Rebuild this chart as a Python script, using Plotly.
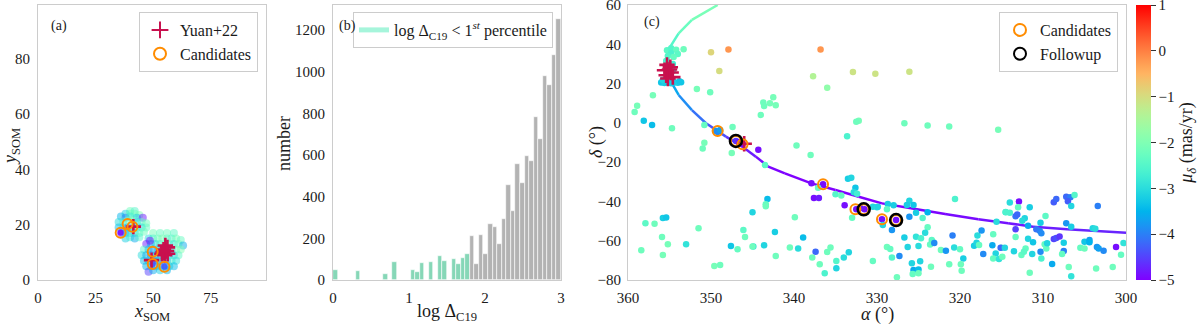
import math
import numpy as np
import plotly.graph_objects as go

# ---------------- DATA ----------------
# Panel (a): SOM positions of members, colored by proper motion in dec
som_x = [40, 42, 38, 40, 42, 44, 36, 38, 40, 43, 45.5, 35, 37, 39, 41, 43, 45, 47,
         35, 37, 39, 41, 43, 45, 47, 36, 38, 40, 42, 44, 46, 38, 40, 42, 44,
         50, 53, 56, 59, 48, 50, 52, 54, 56, 58, 60, 62,
         47, 49, 51, 53, 55, 57, 59, 61, 63, 46, 48, 50, 52, 54, 56, 58, 60, 62,
         45, 47, 49, 51, 53, 55, 57, 59, 61, 46, 48, 50, 52, 54, 56, 58, 60,
         47, 49, 51, 53, 55, 57, 59, 48, 50, 53, 56, 48.6]
som_y = [25, 25, 24, 24, 24, 23.5, 23, 22.5, 23, 22.5, 22.5, 21, 21, 21.5, 21.5, 21, 21, 20.5,
         19, 19, 19, 19, 19, 19, 19, 17, 17, 17, 17, 17, 17.5, 15, 15.5, 15, 15.5,
         17, 17, 17, 17, 15, 15, 15, 15, 15, 15, 15, 14.5,
         13, 13, 13, 13, 13, 13, 13, 13, 12.5, 11, 11, 11, 11, 11, 11, 11, 11, 11,
         9, 9, 9, 9, 9, 9, 9, 9, 9, 7, 7, 7, 7, 7, 7, 7, 7,
         5, 5, 5, 5, 5, 5, 5, 3, 3.5, 3.5, 3.5, 14.2]
som_pm = [-2.2, -2.5, -3.2, -2.3, -2.2, -2.0, -3.5, -4.0, -2.8, -3.3, -4.8, -3.0, -2.6, -2.2, -2.0, -3.0, -2.4, -2.2,
          -3.4, -3.0, -3.8, -2.7, -2.5, -3.1, -2.3, -4.9, -3.5, -3.2, -3.0, -2.4, -2.2, -3.2, -2.7, -3.6, -2.5,
          -2.1, -2.3, -2.2, -2.4, -3.0, -2.6, -2.2, -2.0, -2.3, -2.5, -2.1, -2.3,
          -4.8, -3.5, -3.0, -2.6, -2.2, -2.4, -2.8, -2.2, -3.6, -2.5, -3.3, -3.8, -3.1, -2.7, -2.5, -3.0, -2.2, -2.0,
          -3.0, -3.6, -3.9, -3.3, -2.9, -3.5, -2.7, -3.2, -2.4, -3.4, -3.2, -4.1, -3.6, -3.0, -3.8, -2.6, -2.9,
          -3.5, -3.0, -3.7, -3.3, -4.5, -3.1, -3.4, -4.5, -3.6, -3.2, -3.5, -4.9]
som_core_x = [35.9, 49.8, 54.9]
som_core_y = [17.1, 5.8, 4.8]
som_core_pm = [-4.9, -4.4, -4.3]
som_yuan_x = [41.4, 49.3, 53.8, 54.5, 55.3, 56.2, 55.0, 56.3, 54.3, 55.8]
som_yuan_y = [19.3, 7.2, 9.5, 11.0, 12.5, 11.8, 9.0, 9.5, 10.0, 10.5]
som_cand_x = [35.9, 38.9, 41.0, 49.8, 49.8, 54.9]
som_cand_y = [17.1, 20.3, 19.3, 10.2, 5.8, 4.8]

# Panel (b): histogram of log Delta_C19 (bins of 0.06 from 0 to 3)
hist_bin_width = 0.06
hist_low_counts = [48, 0, 0, 0, 0, 45, 0, 0, 0, 0, 0, 29, 0, 85, 0, 0, 0, 48, 40, 80,
                   0, 85, 0, 117, 93, 0, 99, 75, 107, 123]
hist_high_counts = [213, 77, 214, 125, 270, 254, 174, 291, 458, 333, 555, 466, 594, 571,
                    782, 678, 978, 936, 1078, 1254]

# Panel (c): sky positions (RA, Dec) and proper motion in dec
field_ra = [355.3, 354.8, 354.2, 353.3, 354.8, 354.0, 355.2, 354.5, 355.4, 354.6,
            356.0, 355.6, 355.2, 354.8, 354.4, 354.0, 353.6, 355.4, 354.6, 355.8, 353.8, 355.0, 354.6,
            350.0, 347.9, 349.0, 351.7, 350.1, 357.0, 358.9, 359.2, 358.1, 357.1, 354.7, 350.8, 347.4,
            350.8, 351.0, 347.5, 349.5, 349.2, 348.9, 347.0, 346.6, 346.2,
            345.0, 357.9, 356.8, 355.8, 355.4, 355.9, 355.2, 358.4, 355.8, 353.0, 351.5, 349.6, 348.9,
            347.6, 346.8, 346.1, 345.9, 344.9,
            336.8, 337.7, 336.0, 332.9, 330.2, 342.5, 343.7, 342.9, 343.6, 342.2, 344.0, 332.2, 332.5,
            333.6, 339.7, 338.0, 344.3, 343.5, 337.9, 336.5, 337.1, 337.6, 337.0, 333.5, 333.1, 332.6,
            332.8, 332.4, 335.0, 334.3, 333.9, 332.5, 331.5, 332.0, 330.5, 330.0, 333.0, 343.2, 343.4,
            343.4, 339.9, 342.3, 338.9, 345.0, 343.6, 342.2, 340.5, 339.5, 337.4, 337.8, 336.9, 336.3,
            336.0, 335.6, 334.9, 334.9, 334.0, 333.4, 330.5,
            326.1, 326.7, 323.9, 321.3, 315.4, 329.4, 327.7, 329.9, 328.7, 328.0, 326.1, 326.4, 325.6,
            328.8, 329.3, 328.2, 326.1, 325.3, 323.9, 324.5, 323.9, 324.2, 326.7, 325.3, 324.7, 323.2,
            323.6, 323.4, 323.1, 326.3, 325.0, 328.8, 328.4, 328.2, 327.3, 325.8, 324.8, 325.6, 325.0,
            325.7, 325.0, 323.5, 327.6, 322.3, 321.7, 320.9, 320.6, 320.7, 321.3, 320.0, 319.6, 319.9,
            319.8, 318.3, 318.0, 317.9, 317.4, 317.7, 316.1, 316.0, 315.6, 315.7, 317.2, 316.0, 315.3,
            315.0, 314.9, 315.1, 314.5,
            312.9, 314.0, 314.5, 314.0, 313.3, 313.1, 311.6, 313.0, 312.2, 312.5, 311.8, 313.3, 313.3,
            311.8, 311.2, 310.8, 310.4, 310.2, 310.3, 309.7, 314.6, 313.5, 312.6, 312.1, 312.3, 311.3,
            310.2, 310.3, 311.6, 309.8, 309.6, 309.5, 308.9, 308.7, 308.4, 308.0, 308.7, 308.4, 307.2,
            306.7, 307.0, 306.2, 306.6, 307.2, 306.6, 307.5, 307.5, 307.7, 306.9, 306.6, 305.5, 305.0,
            305.0, 304.4, 304.4, 304.0, 303.7, 303.4, 303.5, 303.3, 302.7, 303.6, 301.6, 301.2, 300.6,
            300.3]
field_dec = [37.0, 38.0, 37.2, 37.5, 35.5, 35.0, 34.0, 33.5, 31.5, 30.0,
             20.5, 20.3, 20.8, 20.2, 20.6, 20.4, 20.7, 21.5, 21.4, 21.8, 21.2, 24.5, 26.5,
             35.9, 37.4, 26.4, 17.2, 15.6, 14.0, 8.7, 5.5, 1.1, -1.1, -2.8, -1.1, -2.1,
             -10.1, -13.0, -15.3, -4.0, -4.6, -3.6, -9.2, -9.8, -10.9,
             -45.5, -51.1, -51.3, -48.4, -48.2, -58.1, -61.8, -64.9, -67.3, -61.8, -53.7, -72.9, -72.4,
             -62.7, -64.4, -54.5, -58.1, -63.0,
             37.3, 23.7, 17.9, 25.9, 25.0, 13.0, 10.3, 10.0, 8.6, 9.0, 4.0, 1.1, 0.6,
             -6.8, -11.5, -16.4, -13.7, -21.5, -30.8, -31.3, -33.0, -38.2, -38.2, -28.4, -27.9, -33.0,
             -35.3, -36.1, -36.4, -37.0, -42.0, -44.0, -44.0, -43.4, -42.7, -43.0, -48.3, -38.8, -41.4,
             -42.4, -48.1, -55.6, -58.3, -63.0, -62.3, -67.8, -63.4, -63.9, -65.6, -68.5, -72.0, -76.6,
             -65.7, -63.4, -70.3, -74.0, -68.6, -65.9, -70.3,
             26.0, -0.2, -1.3, -1.8, -3.5, -49.1, -49.5, -42.7, -41.3, -42.0, -39.6, -41.8, -41.8,
             -44.0, -52.0, -54.5, -47.8, -45.7, -45.5, -48.4, -53.2, -56.0, -58.3, -58.0, -58.8, -60.8,
             -61.9, -59.6, -61.2, -63.2, -62.7, -63.2, -64.2, -68.5, -67.8, -71.5, -70.5, -74.9, -74.6,
             -77.0, -76.6, -73.2, -78.6, -64.7, -65.1, -57.4, -38.8, -63.4, -72.0, -64.4, -69.0, -72.0,
             -75.3, -62.5, -61.0, -57.3, -54.8, -62.2, -62.3, -56.7, -50.3, -66.5, -66.8, -69.1, -69.3,
             -63.6, -68.2, -63.6, -45.5,
             -40.0, -40.5, -45.4, -45.8, -47.5, -46.6, -43.0, -43.0, -48.6, -49.8, -52.4, -54.2, -58.1,
             -59.0, -60.8, -54.2, -54.9, -56.2, -50.8, -47.4, -63.6, -65.4, -67.3, -63.9, -65.6, -66.8,
             -69.0, -65.6, -76.3, -61.8, -63.9, -61.3, -71.9, -59.1, -58.6, -57.9, -40.4, -38.8, -37.6,
             -37.9, -39.9, -36.7, -42.3, -51.1, -52.9, -61.0, -65.2, -66.8, -73.4, -78.1, -63.6, -64.0,
             -60.5, -59.6, -60.8, -53.7, -53.9, -42.3, -63.2, -63.9, -65.1, -74.2, -73.4, -63.2, -67.1,
             -61.2]
field_pmdec = [-2.4, -2.5, -2.3, -2.2, -2.6, -2.4, -2.5, -2.3, -2.6, -2.7,
               -3.3, -3.2, -3.3, -3.2, -3.3, -3.2, -3.3, -3.2, -3.2, -3.1, -3.3, -3.0, -2.9,
               -0.9, -0.2, -1.0, -2.1, -2.2, -2.1, -2.1, -2.2, -3.3, -3.4, -2.2, -2.3, -2.2,
               -2.1, -2.2, -2.1, -3.8, -3.9, -3.7, -4.6, -4.8, -4.9,
               -3.1, -2.4, -2.2, -3.2, -3.3, -2.2, -2.1, -2.2, -2.1, -2.9, -2.2, -2.1, -2.2,
               -3.3, -2.3, -2.4, -2.2, -2.9,
               -0.2, -1.4, -1.8, -1.1, -1.1, -2.1, -2.2, -2.1, -2.2, -2.1, -2.2, -2.1, -2.2,
               -2.6, -2.2, -2.2, -4.9, -2.4, -4.9, -4.9, -2.3, -4.9, -4.8, -3.2, -3.1, -3.3,
               -3.0, -2.7, -2.5, -2.3, -4.9, -4.9, -4.9, -4.8, -3.1, -3.0, -2.3, -3.4, -2.3,
               -2.2, -2.2, -3.2, -3.4, -2.2, -3.1, -2.2, -2.2, -3.0, -4.2, -2.2, -2.2, -2.6,
               -2.2, -2.2, -2.5, -3.1, -3.0, -3.1, -2.3,
               -1.1, -2.2, -2.2, -2.2, -2.1, -4.9, -4.9, -3.1, -3.2, -3.2, -3.1, -3.2, -3.3,
               -2.4, -3.1, -3.8, -3.8, -3.2, -3.5, -2.5, -2.3, -3.0, -3.2, -2.9, -2.6, -2.2,
               -2.3, -2.4, -3.9, -3.1, -3.0, -2.2, -2.3, -2.5, -3.9, -3.1, -3.1, -3.6, -3.4,
               -2.3, -2.2, -2.2, -2.2, -2.2, -3.8, -4.0, -2.6, -3.0, -2.2, -2.3, -3.2, -2.2,
               -2.2, -3.2, -3.1, -3.0, -3.8, -2.3, -3.6, -2.3, -3.0, -3.1, -3.9, -2.3, -2.9,
               -2.2, -2.2, -4.2, -2.7,
               -4.9, -3.0, -2.6, -2.6, -4.1, -4.2, -3.2, -2.3, -3.1, -3.0, -3.6, -4.5, -2.3,
               -3.1, -3.3, -4.1, -4.0, -3.9, -3.2, -2.4, -3.1, -3.1, -2.3, -2.3, -2.4, -3.1,
               -2.6, -3.9, -2.2, -2.3, -2.3, -3.1, -3.6, -4.5, -4.4, -4.6, -4.3, -4.2, -4.2,
               -4.0, -4.3, -2.5, -3.1, -3.8, -3.2, -3.2, -4.0, -2.3, -2.2, -2.9, -2.3, -2.2,
               -3.3, -3.7, -3.5, -3.1, -3.0, -4.0, -3.8, -3.7, -3.9, -2.2, -2.2, -4.9, -2.3,
               -2.9]

yuan_ra = [355.3, 354.9, 355.6, 354.8, 355.4, 354.6, 355.2, 355.0, 346.0]
yuan_dec = [29.5, 28.3, 26.8, 25.6, 24.2, 23.3, 22.6, 27.2, -10.6]
cand_ra = [349.2, 346.2, 336.5, 332.6, 329.4, 347.0, 331.6, 327.7]
cand_dec = [-4.1, -10.9, -31.3, -44.0, -49.1, -9.2, -44.0, -49.5]
follow_ra = [347.0, 331.6, 327.7]
follow_dec = [-9.2, -44.0, -49.5]

track_ra = [349.2, 352.3, 353.9, 354.9, 355.15, 355.2, 355.05, 354.7, 353.9, 352.3, 350.6,
            348.2, 346.2, 344.6, 343.1, 341.1, 337.9, 335.0, 332.2, 329.4, 325.9, 321.8,
            317.8, 314.2, 311.2, 307.1, 300.0]
track_dec = [60.0, 52.4, 45.6, 38.8, 33.0, 28.0, 24.0, 20.1, 14.2, 6.5, -0.2,
             -7.0, -12.1, -17.2, -22.3, -25.7, -30.8, -34.2, -37.6, -41.0, -43.5, -46.4,
             -49.1, -51.1, -52.9, -54.2, -55.9]
track_pmdec = [-2.0, -2.15, -2.35, -2.6, -2.85, -3.05, -3.3, -3.5, -3.75, -4.0, -4.25,
               -4.5, -4.7, -4.85, -4.95, -5.0, -5.0, -5.0, -5.0, -5.0, -5.0, -4.95,
               -4.9, -4.85, -4.8, -4.75, -4.7]

pm_min, pm_max = -5, 1

# ---------------- STYLE HELPERS ----------------
W, H = 1200, 324
FONT = "Liberation Serif"
TXT = "#1a1a1a"


def xp(px):
    return px / W


def yp(py):
    return (H - py) / H


def rainbow(t):
    t = min(max(t, 0.0), 1.0)
    r = min(max(abs(2 * t - 0.5), 0), 1)
    g = min(max(math.sin(math.pi * t), 0), 1)
    b = min(max(math.cos(math.pi * t / 2), 0), 1)
    return "rgb(%d,%d,%d)" % (round(r * 255), round(g * 255), round(b * 255))


colorscale = [[i / 40, rainbow(i / 40)] for i in range(41)]

fig = go.Figure()

# ---------------- PANEL (a) ----------------
fig.add_trace(go.Scatter(x=som_x, y=som_y, mode="markers", xaxis="x", yaxis="y",
                         marker=dict(size=8, color=som_pm, coloraxis="coloraxis", opacity=0.5,
                                     line=dict(width=0)),
                         showlegend=False, hoverinfo="skip"))
fig.add_trace(go.Scatter(x=som_core_x, y=som_core_y, mode="markers", xaxis="x", yaxis="y",
                         marker=dict(size=6, color=som_core_pm, coloraxis="coloraxis", opacity=0.9),
                         showlegend=False, hoverinfo="skip"))
fig.add_trace(go.Scatter(x=som_yuan_x, y=som_yuan_y, mode="markers", xaxis="x", yaxis="y",
                         name="Yuan+22", legend="legend",
                         marker=dict(symbol="cross-thin", size=11, color="#c8104e",
                                     line=dict(color="#c8104e", width=2.6))))
fig.add_trace(go.Scatter(x=som_cand_x, y=som_cand_y, mode="markers", xaxis="x", yaxis="y",
                         name="Candidates", legend="legend",
                         marker=dict(symbol="circle-open", size=10, color="#ff8c00",
                                     line=dict(color="#ff8c00", width=2))))

# ---------------- PANEL (b) ----------------
edges = np.arange(len(hist_low_counts) + len(hist_high_counts)) * hist_bin_width
centers = edges + hist_bin_width / 2
n_low = len(hist_low_counts)
fig.add_trace(go.Bar(x=centers[:n_low], y=hist_low_counts, width=hist_bin_width, xaxis="x2", yaxis="y2",
                     marker=dict(color="#86d7b7", line=dict(color="white", width=0.6)),
                     showlegend=False, hoverinfo="skip"))
fig.add_trace(go.Bar(x=centers[n_low:], y=hist_high_counts, width=hist_bin_width, xaxis="x2", yaxis="y2",
                     marker=dict(color="#b3b3b3", line=dict(color="white", width=0.6)),
                     showlegend=False, hoverinfo="skip"))
fig.add_trace(go.Scatter(x=[None], y=[None], mode="lines", xaxis="x2", yaxis="y2",
                         line=dict(color="#a6f5db", width=10), legend="legend2",
                         name="log Δ<sub>C19</sub> &lt; 1<sup><i>st</i></sup> percentile"))

# ---------------- PANEL (c) ----------------
for i in range(len(track_ra) - 1):
    m = (track_pmdec[i] + track_pmdec[i + 1]) / 2
    fig.add_trace(go.Scatter(x=track_ra[i:i + 2], y=track_dec[i:i + 2], mode="lines",
                             xaxis="x3", yaxis="y3",
                             line=dict(color=rainbow((m - pm_min) / (pm_max - pm_min)), width=2.5),
                             showlegend=False, hoverinfo="skip"))
fig.add_trace(go.Scatter(x=field_ra, y=field_dec, mode="markers", xaxis="x3", yaxis="y3",
                         marker=dict(size=6.5, color=field_pmdec, coloraxis="coloraxis", line=dict(width=0)),
                         showlegend=False, hoverinfo="skip"))
fig.add_trace(go.Scatter(x=yuan_ra, y=yuan_dec, mode="markers", xaxis="x3", yaxis="y3",
                         marker=dict(symbol="cross-thin", size=11, color="#c8104e",
                                     line=dict(color="#c8104e", width=2.6)),
                         showlegend=False, hoverinfo="skip"))
fig.add_trace(go.Scatter(x=cand_ra, y=cand_dec, mode="markers", xaxis="x3", yaxis="y3",
                         name="Candidates", legend="legend3",
                         marker=dict(symbol="circle-open", size=10, color="#ff8c00",
                                     line=dict(color="#ff8c00", width=2))))
fig.add_trace(go.Scatter(x=follow_ra, y=follow_dec, mode="markers", xaxis="x3", yaxis="y3",
                         name="Followup", legend="legend3",
                         marker=dict(symbol="circle-open", size=12, color="black",
                                     line=dict(color="black", width=2.5))))

# ---------------- LAYOUT ----------------
top, bottom = 5, 280
ydom = [yp(bottom), yp(top)]


def axis(domain, rng, tickvals, anchor, ticklen=5):
    return dict(domain=domain, range=rng, tickvals=tickvals, anchor=anchor, automargin=False,
                showgrid=False, zeroline=False, showline=True, linecolor="#cccccc", linewidth=1,
                mirror=True, ticks="outside", ticklen=ticklen, tickcolor="rgba(0,0,0,0)",
                ticklabeloverflow="allow",
                tickfont=dict(family=FONT, size=15, color=TXT), fixedrange=True)


legend_common = dict(bgcolor="white", bordercolor="#cccccc", borderwidth=1,
                     font=dict(family=FONT, size=16, color=TXT), xanchor="right", yanchor="top",
                     itemsizing="constant", tracegroupgap=0)


def label(text, px, py, size=19, angle=0):
    return dict(text=text, x=xp(px), y=yp(py), xref="paper", yref="paper", showarrow=False,
                xanchor="center", yanchor="middle", textangle=angle,
                font=dict(family=FONT, size=size, color=TXT))


annotations = [
    label("(a)", 59, 26, 14),
    label("(b)", 347, 26, 14),
    label("(c)", 652, 22, 14),
    label("<i>x</i><sub>SOM</sub>", 152, 312, 18),
    label("<i>y</i><sub>SOM</sub>", 11, 147, 18, angle=-90),
    label("log Δ<sub>C19</sub>", 447, 312, 18),
    label("number", 284, 144, 18, angle=-90),
    label("<i>α</i> (°)", 877, 314, 18),
    label("<i>δ</i> (°)", 597, 142, 18, angle=-90),
]

fig.update_layout(
    width=W, height=H, margin=dict(l=0, r=0, t=0, b=0, pad=0, autoexpand=False),
    paper_bgcolor="white", plot_bgcolor="white",
    barmode="overlay", bargap=0,
    xaxis=axis([xp(38), xp(266)], [0, 99], [0, 25, 50, 75], "y", ticklen=4),
    yaxis=axis(ydom, [0, 99.5], [0, 20, 40, 60, 80], "x", ticklen=4),
    xaxis2=axis([xp(333), xp(561)], [0, 3], [0, 1, 2, 3], "y2", ticklen=4),
    yaxis2=axis(ydom, [0, 1320], [0, 200, 400, 600, 800, 1000, 1200], "x2", ticklen=4),
    xaxis3=axis([xp(628), xp(1126)], [360, 300], [360, 350, 340, 330, 320, 310, 300], "y3", ticklen=4),
    yaxis3=axis(ydom, [-80, 60], [-80, -60, -40, -20, 0, 20, 40, 60], "x3", ticklen=3),
    coloraxis=dict(
        colorscale=colorscale, cmin=pm_min, cmax=pm_max,
        colorbar=dict(x=xp(1136), xanchor="left", y=yp(bottom), yanchor="bottom",
                      len=bottom - top, lenmode="pixels", thickness=15, thicknessmode="pixels",
                      outlinewidth=0, ticks="outside", ticklen=5, tickcolor="#333",
                      tickvals=[1, 0, -1, -2, -3, -4, -5], xpad=0, ypad=0,
                      ticklabeloverflow="allow",
                      tickfont=dict(family=FONT, size=15, color=TXT),
                      title=dict(text="<i>μ</i><sub><i>δ</i></sub> (mas/yr)", side="right",
                                 font=dict(family=FONT, size=18, color=TXT))),
    ),
    legend=dict(x=xp(258), y=yp(12), **legend_common),
    legend2=dict(x=xp(553), y=yp(12), **legend_common),
    legend3=dict(x=xp(1118), y=yp(12), **legend_common),
    annotations=annotations,
)

fig.write_html("out.html", config={"displayModeBar": False},
               post_script="document.body.style.margin='0';document.body.style.padding='0';")
